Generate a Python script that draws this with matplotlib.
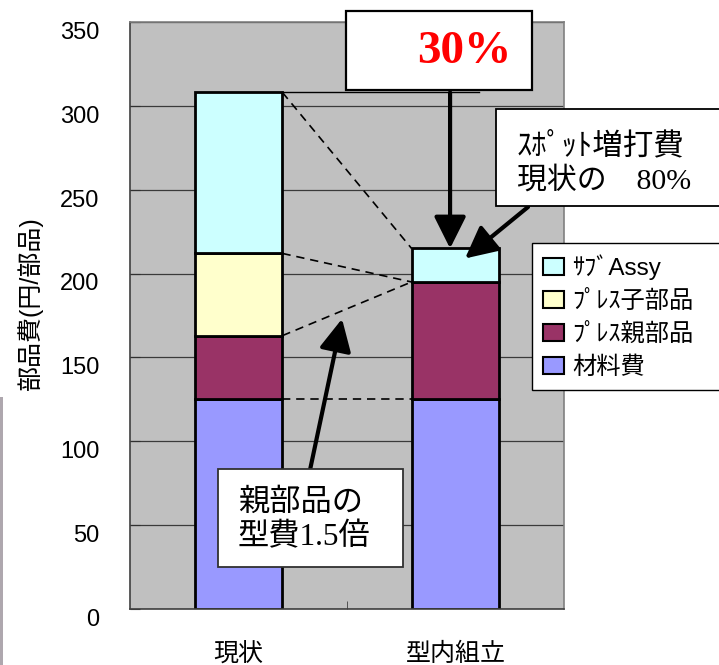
import matplotlib
matplotlib.use("Agg")
import numpy as np
import matplotlib.pyplot as plt
from matplotlib.patches import Rectangle, Patch
from matplotlib.transforms import ScaledTranslation

plt.rcParams['font.family'] = ['Liberation Sans', 'Noto Sans CJK JP']
SERIF = ['Liberation Serif', 'Noto Sans CJK JP']

W, H = 719, 665

# data
categories = ["現状", "型内組立"]
series = ["材料費", "ﾌﾟﾚｽ親部品", "ﾌﾟﾚｽ子部品", "ｻﾌﾞAssy"]
material = [125, 125]
press_parent = [38, 70]
press_child = [49, 0]
sub_assy = [96, 20]
colors = ["#9999ff", "#993366", "#ffffcc", "#ccffff"]
yticks = [0, 50, 100, 150, 200, 250, 300, 350]


def fx(px):
    return px / W


def fy(py):
    return 1 - py / H


fig = plt.figure(figsize=(W / 100, H / 100), dpi=100)
ax = fig.add_axes([fx(130), fy(609), 434 / W, 587 / H])
ax.set_facecolor("#c0c0c0")

x = np.arange(len(categories))
bw = 0.405
stack = np.array([material, press_parent, press_child, sub_assy], dtype=float)
tops = np.cumsum(stack, axis=0)
bottom = np.zeros(len(categories))
for vals, c, name in zip(stack, colors, series):
    ax.bar(x, vals, bw, bottom=bottom, color=c, edgecolor="black",
           linewidth=2, label=name, zorder=2)
    bottom += vals

# connecting dashed lines between bars
xl, xr = x[0] + bw / 2, x[1] - bw / 2
pairs = [(tops[3][0], tops[3][1]), (tops[2][0], tops[1][1]),
         (tops[1][0], tops[1][1]), (tops[0][0], tops[0][1])]
for y0, y1 in pairs:
    ax.plot([xl, xr], [y0, y1], color="black", lw=1.2, ls=(0, (5, 3.5)), zorder=3)

# thin reference line at current total
ax.plot([xl, 1.108], [tops[3][0], tops[3][0]], color="black", lw=1, zorder=3)

ax.set_xlim(-0.5, 1.5)
ax.set_ylim(0, 350)
ax.set_yticks(yticks)
ax.set_xticks(x, categories)
ax.set_xticks([0.5], minor=True)
ax.tick_params(axis="y", direction="in", length=7, pad=22, labelsize=17, color="#303030")
ax.tick_params(axis="x", which="major", length=0, pad=24, labelsize=18)
ax.tick_params(axis="x", which="minor", direction="in", length=6, color="#404040")
offset = ScaledTranslation(0, -6 / 72, fig.dpi_scale_trans)
for lbl in ax.get_yticklabels():
    lbl.set_transform(lbl.get_transform() + offset)

ax.yaxis.grid(True, color="#3a3a3a", lw=0.9)
ax.set_axisbelow(True)
for s in ["left", "bottom"]:
    ax.spines[s].set_color("#404040")
    ax.spines[s].set_linewidth(1.2)
for s in ["top", "right"]:
    ax.spines[s].set_color("#808080")
    ax.spines[s].set_linewidth(1.2)

# y axis title
fig.text(fx(30), fy(303), "部品費(円/部品)", fontsize=18, rotation=90,
         ha="center", va="center")

# arrows
aprops = dict(arrowstyle="-|>,head_length=1.3,head_width=0.65", mutation_scale=15,
              lw=3, color="black", shrinkA=0, shrinkB=0)
ax.annotate("", xy=(0.975, tops[3][1]), xytext=(0.975, tops[3][0]),
            arrowprops=aprops, annotation_clip=False, zorder=4)
ax.annotate("", xy=(1.044, 209), xytext=(fx(528), fy(207)), textcoords="figure fraction",
            arrowprops=aprops, annotation_clip=False, zorder=4)
ax.annotate("", xy=(0.477, 173), xytext=(fx(310), fy(470)), textcoords="figure fraction",
            arrowprops=aprops, annotation_clip=False, zorder=4)

# callout boxes
fig.add_artist(Rectangle((fx(346), fy(90)), 186 / W, 79 / H, transform=fig.transFigure,
                         fc="white", ec="black", lw=1.6, zorder=5))
fig.text(fx(464), fy(52), "30%", color="#ff0000", fontsize=34, fontweight="bold",
         family="Liberation Serif", ha="center", va="center", zorder=6)

fig.add_artist(Rectangle((fx(496), fy(206)), 240 / W, 97 / H, transform=fig.transFigure,
                         fc="white", ec="black", lw=1.3, zorder=5))
fig.text(fx(517), fy(147), "ｽﾎﾟｯﾄ増打費", fontsize=22, family=SERIF,
         ha="left", va="center", zorder=6)
fig.text(fx(517), fy(181), "現状の　80%", fontsize=21.5, family=SERIF,
         ha="left", va="center", zorder=6)

fig.add_artist(Rectangle((fx(218), fy(567)), 185 / W, 98 / H, transform=fig.transFigure,
                         fc="white", ec="#303030", lw=1.3, zorder=5))
fig.text(fx(238), fy(503), "親部品の", fontsize=22.5, family=SERIF,
         ha="left", va="center", zorder=6)
fig.text(fx(238), fy(538), "型費1.5倍", fontsize=22.5, family=SERIF,
         ha="left", va="center", zorder=6)

# legend
handles = [Patch(facecolor=c, edgecolor="black", lw=1.5, label=n)
           for c, n in zip(colors[::-1], series[::-1])]
leg = fig.legend(handles=handles, loc="upper left",
                 bbox_to_anchor=(fx(532), fy(389), 200 / W, 146 / H), mode="expand",
                 borderaxespad=0, fontsize=17.5, fancybox=False, edgecolor="black",
                 framealpha=1, handlelength=0.85, handleheight=0.7, handletextpad=0.35,
                 labelspacing=0.42, borderpad=0.45)
leg.get_frame().set_linewidth(1.0)

# strip at left edge
fig.add_artist(Rectangle((0, 0), 3 / W, 268 / H, transform=fig.transFigure,
                         fc="#aea7ae", ec="none"))

fig.savefig("out.png", dpi=100)
